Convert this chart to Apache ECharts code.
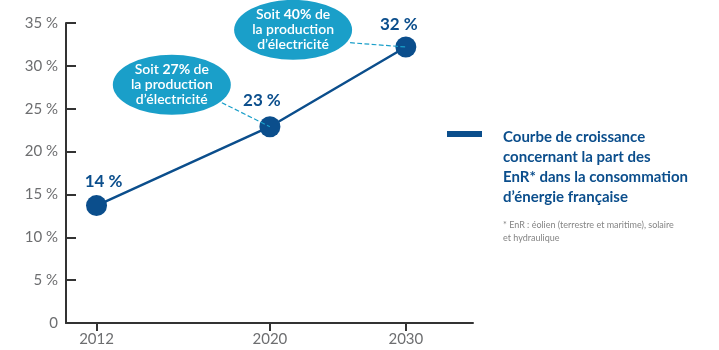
<!DOCTYPE html>
<html>
<head>
<meta charset="utf-8">
<script src="https://cdn.jsdelivr.net/npm/echarts@6/dist/echarts.min.js"></script>
<style>html,body{margin:0;padding:0;background:#fff;}#c{width:719px;height:350px;}</style>
</head>
<body>
<div id="c"></div>
<script>
// Data
const years = ['2012', '2020', '2030'];
const yearPos = [7.5, 50.1, 83.5];          // position of each year along the (non-linear) time axis
const shareEnR = [13.7, 22.9, 32.2];          // % EnR in French energy consumption
const shareLabels = ['14 %', '23 %', '32 %'];
const elecShare = [27, 40];                   // % of electricity production (2020, 2030)
const yTicks = [0, 5, 10, 15, 20, 25, 30, 35];
const seriesName = 'Courbe de croissance concernant la part des EnR* dans la consommation d’énergie française';
const legendLines = ['Courbe de croissance', 'concernant la part des', 'EnR* dans la consommation', 'd’énergie française'];
const footnote = ['* EnR : éolien (terrestre et maritime), solaire', 'et hydraulique'];

const FONT = 'Lato, "Open Sans", sans-serif';
const DARK = '#0b4e8c';
const TEAL = '#1a9fc9';
const AXIS = '#333333';

const chart = echarts.init(document.getElementById('c'));
const labelOffsets = [[7, 0], [-8, -2], [-7, 2]];
const option = {
  backgroundColor: '#fff',
  animation: false,
  textStyle: { fontFamily: FONT },
  grid: { left: 66, right: 246, top: 23, bottom: 27 },
  title: {
    left: 503, top: 127, padding: 0,
    text: legendLines.join('\n'),
    textStyle: { fontFamily: FONT, fontSize: 15, fontWeight: 'bold', color: DARK, lineHeight: 20 },
    subtext: footnote.join('\n'),
    subtextStyle: { fontFamily: FONT, fontSize: 9, color: '#858585', lineHeight: 13 },
    itemGap: 12
  },
  legend: {
    left: 447, top: 131, padding: 0,
    data: [seriesName],
    icon: 'rect', itemWidth: 35, itemHeight: 6,
    formatter: () => '',
    selectedMode: false
  },
  xAxis: {
    type: 'value', min: 0, max: 100,
    splitLine: { show: false },
    axisLine: { show: true, lineStyle: { color: AXIS, width: 2 } },
    axisTick: { show: true, customValues: yearPos, length: 8, lineStyle: { color: AXIS, width: 2 } },
    axisLabel: {
      customValues: yearPos,
      formatter: (v) => { const i = yearPos.indexOf(v); return i >= 0 ? years[i] : ''; },
      color: '#6d6e70', fontSize: 15, fontFamily: FONT, margin: 9
    }
  },
  yAxis: {
    type: 'value', min: 0, max: 35, interval: 5,
    splitLine: { show: false },
    axisLine: { show: true, lineStyle: { color: AXIS, width: 2 } },
    axisTick: { show: true, inside: true, length: 10, lineStyle: { color: AXIS, width: 2 } },
    axisLabel: {
      formatter: (v) => v === 0 ? '0' : v + ' %',
      color: '#6d6e70', fontSize: 15, fontFamily: FONT, margin: 8
    }
  },
  series: [
    {
      name: 'bulles',
      type: 'scatter',
      clip: false,
      silent: true,
      z: 1,
      symbol: 'circle',
      symbolSize: [118, 60],
      itemStyle: { color: TEAL, opacity: 1 },
      data: [[26.0, 27.8], [55.8, 34.2]],
      label: {
        show: true, position: 'inside',
        formatter: (p) => '{n|Soit }{b|' + elecShare[p.dataIndex] + '%}{n| de}\n{n|la production}\n{n|d’électricité}',
        rich: {
          n: { color: '#fff', fontSize: 14, fontWeight: 600, fontFamily: FONT, lineHeight: 15 },
          b: { color: '#fff', fontSize: 14, fontWeight: 'bold', fontFamily: FONT, lineHeight: 15 }
        }
      },
      markLine: {
        silent: true,
        symbol: ['none', 'none'],
        label: { show: false },
        lineStyle: { color: TEAL, type: 'dashed', width: 1.2 },
        data: [
          [{ coord: [38.3, 25.7] }, { coord: [yearPos[1], shareEnR[1]] }],
          [{ coord: [69.8, 32.7] }, { coord: [yearPos[2], shareEnR[2]] }]
        ]
      }
    },
    {
      name: seriesName,
      type: 'line',
      z: 3,
      data: yearPos.map((x, i) => ({
        value: [x, shareEnR[i]],
        label: { offset: labelOffsets[i] }
      })),
      symbol: 'circle',
      symbolSize: 21,
      showAllSymbol: true,
      lineStyle: { color: DARK, width: 2.5 },
      itemStyle: { color: DARK },
      label: {
        show: true, position: 'top', distance: 5,
        formatter: (p) => shareLabels[p.dataIndex],
        color: DARK, fontSize: 17, fontWeight: 'bold', fontFamily: FONT
      }
    }
  ]
};
chart.setOption(option);
</script>
</body>
</html>
